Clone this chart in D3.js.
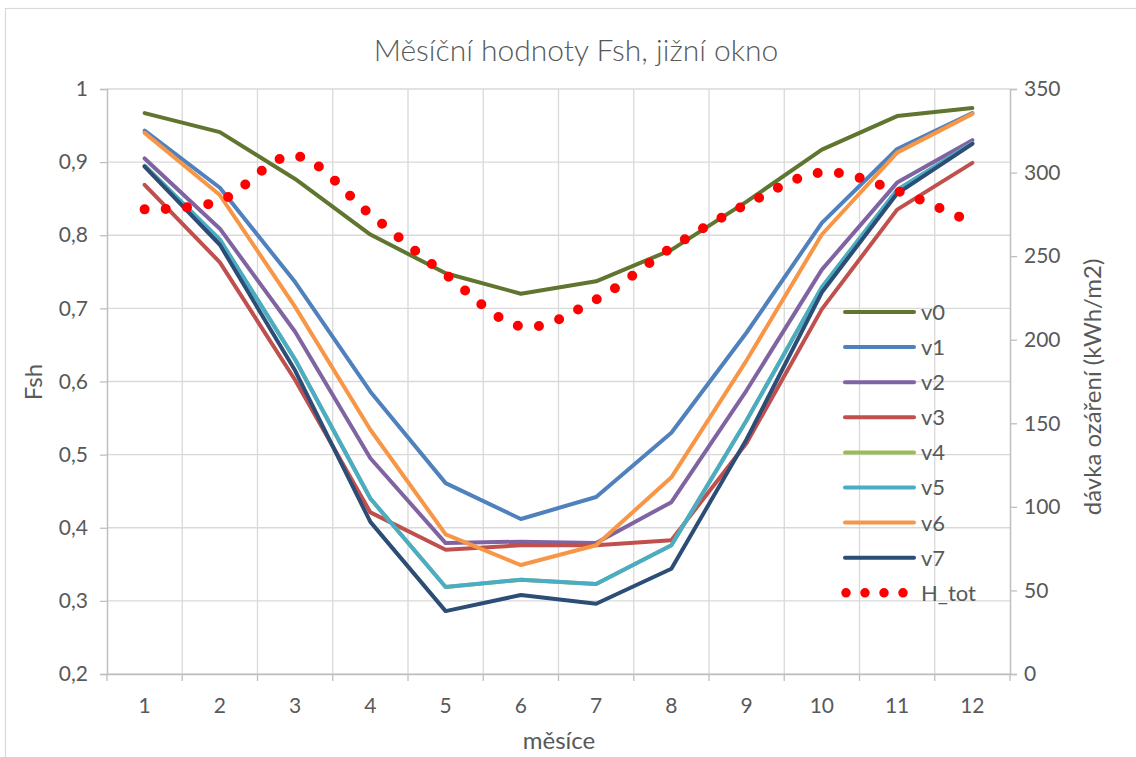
<!DOCTYPE html>
<html>
<head>
<meta charset="utf-8">
<script src="https://cdn.jsdelivr.net/npm/d3@7"></script>
<style>
  html, body { margin: 0; padding: 0; background: #ffffff; }
  svg { display: block; }
  text { font-family: Lato, "Open Sans", sans-serif; fill: #595959; }
</style>
</head>
<body>
<svg id="chart" width="1136" height="757"></svg>
<script>
// Months on the category axis
const months = [1, 2, 3, 4, 5, 6, 7, 8, 9, 10, 11, 12];

// Monthly shading factor Fsh for each variant
const v0 = [0.967, 0.941, 0.877, 0.801, 0.748, 0.720, 0.737, 0.780, 0.846, 0.917, 0.963, 0.974];
const v1 = [0.943, 0.865, 0.736, 0.586, 0.461, 0.412, 0.442, 0.530, 0.667, 0.817, 0.918, 0.967];
const v2 = [0.905, 0.809, 0.668, 0.495, 0.379, 0.381, 0.379, 0.435, 0.588, 0.753, 0.872, 0.930];
const v3 = [0.869, 0.763, 0.602, 0.421, 0.370, 0.376, 0.376, 0.383, 0.516, 0.699, 0.835, 0.899];
const v4 = [0.895, 0.794, 0.630, 0.440, 0.319, 0.329, 0.323, 0.376, 0.547, 0.729, 0.862, 0.926];
const v5 = [0.895, 0.794, 0.630, 0.440, 0.319, 0.329, 0.323, 0.376, 0.547, 0.729, 0.862, 0.926];
const v6 = [0.940, 0.855, 0.702, 0.534, 0.391, 0.349, 0.376, 0.469, 0.629, 0.801, 0.913, 0.966];
const v7 = [0.894, 0.787, 0.615, 0.408, 0.286, 0.308, 0.296, 0.344, 0.521, 0.722, 0.857, 0.925];

// Total monthly irradiation on the window (kWh/m2), secondary axis
const hTot = [278, 283, 310, 275, 239, 208, 224, 255, 281, 300, 289, 270];

// Axis tick values
const fshTicks = [0.2, 0.3, 0.4, 0.5, 0.6, 0.7, 0.8, 0.9, 1.0];
const irrTicks = [0, 50, 100, 150, 200, 250, 300, 350];

const seriesNames = ["v0", "v1", "v2", "v3", "v4", "v5", "v6", "v7"];
const seriesValues = [v0, v1, v2, v3, v4, v5, v6, v7];
const seriesColors = ["#5f7530", "#4f81bd", "#8064a2", "#c0504d", "#9bbb59", "#4bacc6", "#f79646", "#2c4d75"];
const hTotColor = "#ff0000";

const svg = d3.select("#chart");
const W = 1136, H = 757;
const plot = { left: 107, right: 1010, top: 89, bottom: 674 };

svg.append("rect").attr("width", W).attr("height", H).attr("fill", "#ffffff");
// chart area frame
svg.append("rect")
  .attr("x", 5.5).attr("y", 8.5).attr("width", 1200).attr("height", 800)
  .attr("fill", "none").attr("stroke", "#d9d9d9").attr("stroke-width", 1.2);

const x = d3.scaleBand().domain(months).range([plot.left, plot.right]).padding(0);
const xc = m => x(m) + x.bandwidth() / 2;
const yL = d3.scaleLinear().domain([0.2, 1]).range([plot.bottom, plot.top]);
const yR = d3.scaleLinear().domain([0, 350]).range([plot.bottom, plot.top]);

const gridColor = "#d9d9d9";
const axisColor = "#bfbfbf";
const fmt = v => d3.format(".1~f")(v).replace(".", ",");

// horizontal gridlines
svg.append("g").selectAll("line").data(fshTicks).join("line")
  .attr("x1", plot.left).attr("x2", plot.right)
  .attr("y1", d => yL(d)).attr("y2", d => yL(d))
  .attr("stroke", gridColor).attr("stroke-width", 1.3);

// vertical gridlines at category boundaries
const bounds = months.map(m => x(m)).concat([plot.right]);
svg.append("g").selectAll("line").data(bounds.slice(1, -1)).join("line")
  .attr("x1", d => d).attr("x2", d => d)
  .attr("y1", plot.top).attr("y2", plot.bottom)
  .attr("stroke", gridColor).attr("stroke-width", 1.3);

// left axis
const gL = svg.append("g").attr("transform", `translate(${plot.left},0)`)
  .call(d3.axisLeft(yL).tickValues(fshTicks).tickFormat(fmt).tickSize(7).tickPadding(12));
// right axis
const gR = svg.append("g").attr("transform", `translate(${plot.right},0)`)
  .call(d3.axisRight(yR).tickValues(irrTicks).tickSize(7).tickPadding(7));
// bottom axis with ticks between categories
const gB = svg.append("g").attr("transform", `translate(0,${plot.bottom})`)
  .call(d3.axisBottom(x).tickSize(0).tickPadding(24));
gB.append("g").selectAll("line").data(bounds).join("line")
  .attr("x1", d => d).attr("x2", d => d).attr("y1", 0).attr("y2", 7)
  .attr("stroke", axisColor).attr("stroke-width", 1.3);

[gL, gR, gB].forEach(g => {
  g.select(".domain").attr("stroke", axisColor).attr("stroke-width", 1.5);
  g.selectAll(".tick line").attr("stroke", axisColor).attr("stroke-width", 1.3);
  g.selectAll(".tick text").attr("fill", "#595959").style("font-size", "21px")
    .style("font-family", "Lato, sans-serif");
});

// Fsh lines
const line = d3.line().x((d, i) => xc(months[i])).y(d => yL(d));
seriesValues.forEach((vals, k) => {
  svg.append("path").datum(vals)
    .attr("d", line)
    .attr("fill", "none")
    .attr("stroke", seriesColors[k])
    .attr("stroke-width", 4)
    .attr("stroke-linejoin", "round")
    .attr("stroke-linecap", "round");
});

// irradiation as a smoothed dotted line
const lineR = d3.line().x((d, i) => xc(months[i])).y(d => yR(d)).curve(d3.curveCardinal.tension(0));
svg.append("path").datum(hTot)
  .attr("d", lineR)
  .attr("fill", "none")
  .attr("stroke", hTotColor)
  .attr("stroke-width", 10)
  .attr("stroke-linecap", "round")
  .attr("stroke-dasharray", "0 21.3");

// legend
const legY0 = 312, legDy = 35.1, legX1 = 845, legX2 = 914, legTx = 921;
const leg = svg.append("g");
seriesNames.forEach((name, k) => {
  const yy = legY0 + k * legDy;
  leg.append("line").attr("x1", legX1).attr("x2", legX2).attr("y1", yy).attr("y2", yy)
    .attr("stroke", seriesColors[k]).attr("stroke-width", 4).attr("stroke-linecap", "round");
  leg.append("text").attr("x", legTx).attr("y", yy).attr("dy", "0.36em")
    .style("font-size", "22px").text(name);
});
{
  const yy = legY0 + seriesNames.length * legDy;
  leg.append("line").attr("x1", 846).attr("x2", 904).attr("y1", yy).attr("y2", yy)
    .attr("stroke", hTotColor).attr("stroke-width", 9.5).attr("stroke-linecap", "round")
    .attr("stroke-dasharray", "0 19");
  leg.append("text").attr("x", legTx).attr("y", yy).attr("dy", "0.36em")
    .style("font-size", "22px").text("H_tot");
}

// titles
svg.append("text").attr("x", 576).attr("y", 61).attr("text-anchor", "middle")
  .style("font-size", "30px").style("font-weight", 300)
  .text("Měsíční hodnoty Fsh, jižní okno");
svg.append("text").attr("x", 559).attr("y", 749).attr("text-anchor", "middle")
  .style("font-size", "24px").text("měsíce");
svg.append("text").attr("transform", "translate(42,382) rotate(-90)").attr("text-anchor", "middle")
  .style("font-size", "24px").text("Fsh");
svg.append("text").attr("transform", "translate(1101,387) rotate(-90)").attr("text-anchor", "middle")
  .style("font-size", "24px").text("dávka ozáření (kWh/m2)");
</script>
</body>
</html>
